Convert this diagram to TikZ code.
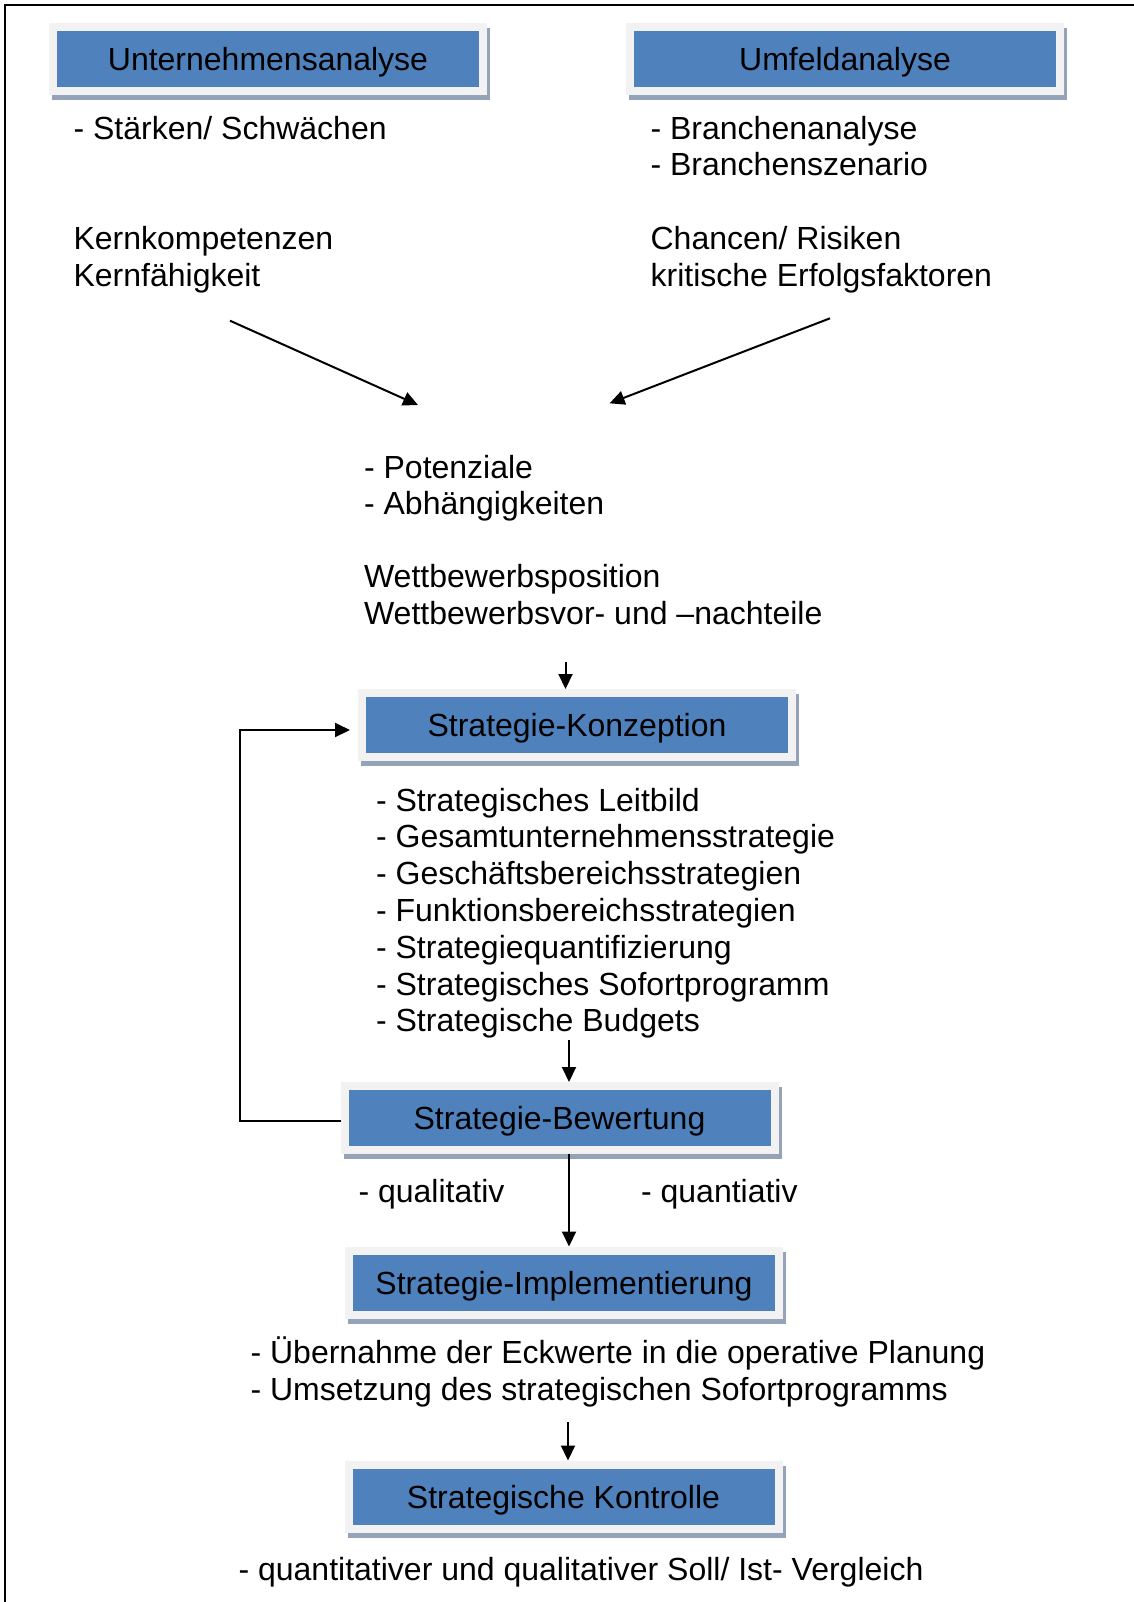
\documentclass[tikz,border=0pt]{standalone}
\usepackage{fontspec}
\setmainfont{Liberation Sans}
\usetikzlibrary{arrows.meta,backgrounds,calc}
\definecolor{boxblue}{HTML}{4F81BD}
\definecolor{boxlight}{HTML}{F2F2F2}
\definecolor{boxshadow}{HTML}{95A3B8}
\begin{document}
\begin{tikzpicture}[x=0.5pt,y=-0.5pt,
  txt/.style={anchor=base west,inner sep=0pt,xshift=0.6pt,font=\fontsize{16pt}{18.4pt}\selectfont},
  bx/.style={rectangle,fill=boxblue,draw=boxlight,line width=4pt,minimum width=215pt,minimum height=32pt,inner sep=0pt,text height=11.5pt,text depth=0pt,font=\fontsize{16pt}{18.4pt}\selectfont},
  arr/.style={line width=1pt,-{Triangle[length=7.5pt,width=7pt]}},
  conn/.style={line width=0.9pt}
  ]
\useasboundingbox (0,0) rectangle (1134,1602);
\draw[line width=1pt] (5,1615) -- (5,5) -- (1145,5);

% boxes
\node[bx] (ua) at (268,58.5) {Unternehmensanalyse};
\node[bx] (uf) at (845,58.5) {Umfeldanalyse};
\node[bx] (sk) at (577,725) {Strategie-Konzeption};
\node[bx] (sb) at (559.5,1118) {Strategie-Bewertung};
\node[bx] (si) at (564,1282.5) {Strategie-Implementierung};
\node[bx] (kt) at (563.5,1496.5) {Strategische Kontrolle};

\begin{scope}[on background layer]
\foreach \n in {ua,uf,sk,sb,si,kt}
  \fill[boxshadow] ($(\n.south west)+(3,5)$) rectangle ($(\n.north east)+(3,5)$);
\end{scope}

% texts
\node[txt] (t1) at (72,139) {- Stärken/ Schwächen};
\node[txt] (t2) at (649,139) {- Branchenanalyse};
\node[txt] (t3) at (649,175.8) {- Branchenszenario};
\node[txt] (t4) at (72,249.3) {Kernkompetenzen};
\node[txt] (t5) at (72,286.1) {Kernfähigkeit};
\node[txt] (t6) at (649,249.3) {Chancen/ Risiken};
\node[txt] (t7) at (649,286.1) {kritische Erfolgsfaktoren};
\node[txt] (t8) at (362.5,478.1) {- Potenziale};
\node[txt] (t9) at (362.5,514.9) {- Abhängigkeiten};
\node[txt] (t10) at (362.5,587.4) {Wettbewerbsposition};
\node[txt] (t11) at (362.5,624.2) {Wettbewerbsvor- und –nachteile};
\node[txt] (l1) at (374.5,811.1) {- Strategisches Leitbild};
\node[txt] (l2) at (374.5,847.9) {- Gesamtunternehmensstrategie};
\node[txt] (l3) at (374.5,884.7) {- Geschäftsbereichsstrategien};
\node[txt] (l4) at (374.5,921.5) {- Funktionsbereichsstrategien};
\node[txt] (l5) at (374.5,958.3) {- Strategiequantifizierung};
\node[txt] (l6) at (374.5,995.1) {- Strategisches Sofortprogramm};
\node[txt] (l7) at (374.5,1031.9) {- Strategische Budgets};
\node[txt] (q1) at (357,1202) {- qualitativ};
\node[txt] (q2) at (639.5,1202) {- quantiativ};
\node[txt] (m1) at (249,1363.8) {- Übernahme der Eckwerte in die operative Planung};
\node[txt] (m2) at (249,1400.6) {- Umsetzung des strategischen Sofortprogramms};
\node[txt] (k1) at (237,1580.5) {- quantitativer und qualitativer Soll/ Ist- Vergleich};

% connectors
\coordinate (a1s) at (230,320.7);
\coordinate (a1e) at (418,405);
\coordinate (a2s) at (830,318.3);
\coordinate (a2e) at (609.6,403.3);
\coordinate (a3s) at (565.5,662);
\coordinate (a4s) at (569,1040);
\coordinate (a5s) at (569,1154);
\coordinate (a6s) at (568,1422);
\coordinate (fb) at (240,0);
\draw[arr] (a1s) -- (a1e);
\draw[arr] (a2s) -- (a2e);
\draw[arr] (a3s) -- (a3s |- sk.north);
\draw[arr] (a4s) -- (a4s |- sb.north);
\draw[arr] (a5s) -- (a5s |- si.north);
\draw[arr] (a6s) -- (a6s |- kt.north);
\draw[arr,shorten >=4pt] ([yshift=-1.5pt]sb.west) -- ([yshift=-1.5pt]sb.west -| fb) -- ([yshift=-2.5pt]fb |- sk.west) -- ([yshift=-2.5pt]sk.west);
\end{tikzpicture}
\end{document}
